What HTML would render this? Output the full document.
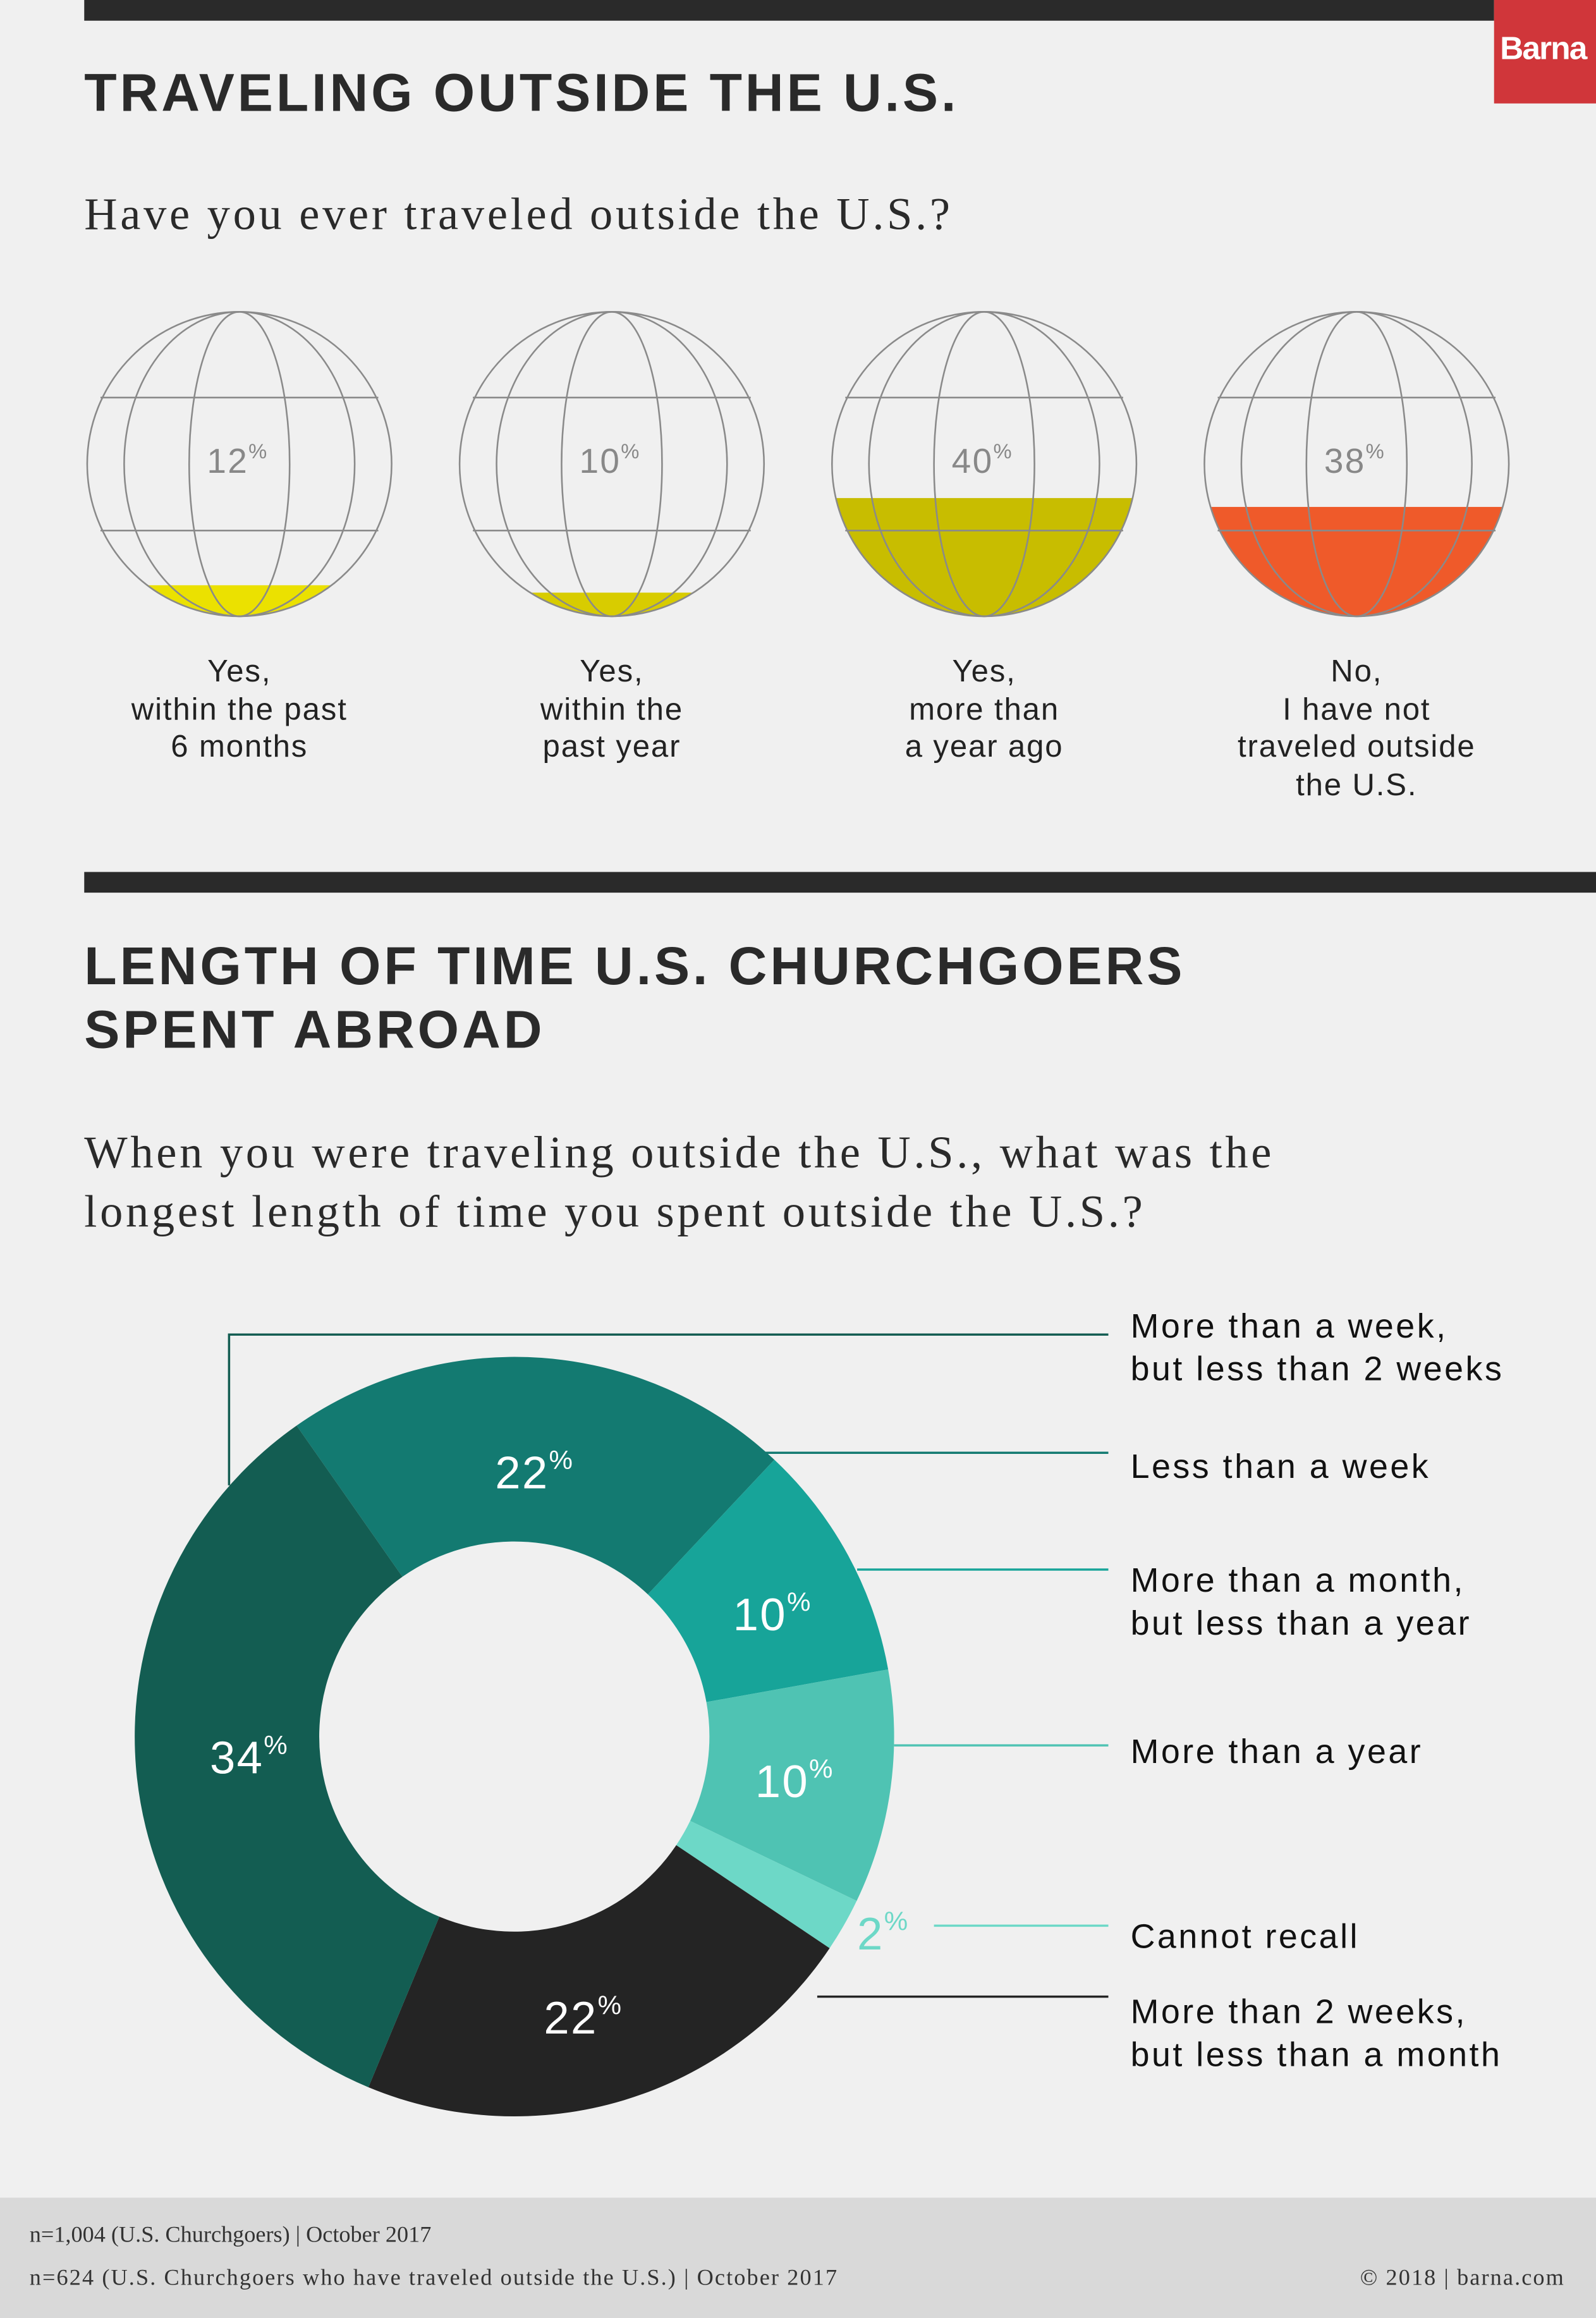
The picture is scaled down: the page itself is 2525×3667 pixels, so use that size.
<!DOCTYPE html>
<html><head><meta charset="utf-8"><style>
html,body{margin:0;padding:0;background:#f0f0f0;}
#w{width:2525px;height:3667px;overflow:hidden;position:relative;background:#f0f0f0;}
#c{position:absolute;left:0;top:0;width:1080px;height:1569px;transform:scale(2.3380);transform-origin:0 0;}
.a{position:absolute;white-space:nowrap;}
.h{font-family:"Liberation Sans",sans-serif;font-weight:bold;font-size:36px;color:#2a2a2a;letter-spacing:2.1px;}
.q{font-family:"Liberation Serif",serif;font-size:31px;color:#2a2a2a;letter-spacing:2px;}
.lb{font-family:"Liberation Sans",sans-serif;font-size:21px;color:#222;text-align:center;line-height:25.5px;letter-spacing:0.8px;}
.lg{font-family:"Liberation Sans",sans-serif;font-size:23px;color:#111;line-height:28.5px;letter-spacing:1.5px;}
.ft{font-family:"Liberation Serif",serif;font-size:15.5px;color:#333;letter-spacing:0.5px;}
</style></head><body><div id="w"><div id="c">
<div class="a" style="left:57px;top:0;width:954px;height:14px;background:#2a2a2a"></div>
<div class="a" style="left:1011px;top:0;width:69px;height:70px;background:#d0363a"></div>
<div class="a" style="left:1015px;top:20px;font-family:'Liberation Sans',sans-serif;font-weight:bold;font-size:22px;color:#fff;letter-spacing:-0.8px">Barna</div>
<div class="a h" style="left:57px;top:42px">TRAVELING OUTSIDE THE U.S.</div>
<div class="a q" style="left:57px;top:127px">Have you ever traveled outside the U.S.?</div>

<svg class="a" style="left:0;top:0" width="1080" height="1569" viewBox="0 0 1080 1569">
<defs>
<clipPath id="g1"><circle cx="162" cy="314" r="103"/></clipPath>
<clipPath id="g2"><circle cx="414" cy="314" r="103"/></clipPath>
<clipPath id="g3"><circle cx="666" cy="314" r="103"/></clipPath>
<clipPath id="g4"><circle cx="918" cy="314" r="103"/></clipPath>
</defs>
<rect x="0" y="396" width="1080" height="200" fill="#ebe100" clip-path="url(#g1)"/>
<rect x="0" y="401" width="1080" height="200" fill="#d8cc00" clip-path="url(#g2)"/>
<rect x="0" y="337" width="1080" height="200" fill="#c8bd00" clip-path="url(#g3)"/>
<rect x="0" y="343" width="1080" height="200" fill="#ef5a2a" clip-path="url(#g4)"/>
<g fill="none" stroke="#8a8a8a" stroke-width="1.1">
<g id="gl"><circle cx="162" cy="314" r="103"/><ellipse cx="162" cy="314" rx="78" ry="103"/><ellipse cx="162" cy="314" rx="34" ry="103"/><line x1="68" y1="269" x2="256" y2="269"/><line x1="68" y1="359" x2="256" y2="359"/></g>
<use href="#gl" x="252"/><use href="#gl" x="504"/><use href="#gl" x="756"/>
</g>
<g font-family="Liberation Sans,sans-serif" fill="#888" font-size="23.5" letter-spacing="1">
<text x="140" y="320">12<tspan font-size="14" dy="-10">%</tspan></text>
<text x="392" y="320">10<tspan font-size="14" dy="-10">%</tspan></text>
<text x="644" y="320">40<tspan font-size="14" dy="-10">%</tspan></text>
<text x="896" y="320">38<tspan font-size="14" dy="-10">%</tspan></text>
</g>
<rect x="57" y="590" width="1023" height="14" fill="#2a2a2a"/>
<rect x="0" y="1487" width="1080" height="82" fill="#d9d9d9"/>
<g stroke-width="1.5" fill="none">
<polyline points="155,1005 155,903 750,903" stroke="#135d52"/>
<line x1="515" y1="983" x2="750" y2="983" stroke="#137a71"/>
<line x1="580" y1="1062" x2="750" y2="1062" stroke="#17a499"/>
<line x1="605" y1="1181" x2="750" y2="1181" stroke="#4fc3b3"/>
<line x1="632" y1="1303" x2="750" y2="1303" stroke="#6dd8c7"/>
<line x1="553" y1="1351" x2="750" y2="1351" stroke="#242424"/>
</g>
<g transform="translate(348,1175)">
<path d="M-147.3,-210.4 A257,257 0 0 1 176.0,-187.3 L90.4,-96.2 A132,132 0 0 0 -75.7,-108.1Z" fill="#137a71"/>
<path d="M176.0,-187.3 A257,257 0 0 1 253.0,-45.4 L130.0,-23.3 A132,132 0 0 0 90.4,-96.2Z" fill="#17a499"/>
<path d="M253.0,-45.4 A257,257 0 0 1 231.7,111.2 L119.0,57.1 A132,132 0 0 0 130.0,-23.3Z" fill="#4fc3b3"/>
<path d="M231.7,111.2 A257,257 0 0 1 213.4,143.2 L109.6,73.5 A132,132 0 0 0 119.0,57.1Z" fill="#6dd8c7"/>
<path d="M213.4,143.2 A257,257 0 0 1 -98.7,237.3 L-50.7,121.9 A132,132 0 0 0 109.6,73.5Z" fill="#242424"/>
<path d="M-98.7,237.3 A257,257 0 0 1 -147.3,-210.4 L-75.7,-108.1 A132,132 0 0 0 -50.7,121.9Z" fill="#135d52"/>
</g>
<g font-family="Liberation Sans,sans-serif" fill="#fff" font-size="31" letter-spacing="1">
<text x="335" y="1007">22<tspan font-size="18" dy="-13">%</tspan></text>
<text x="496" y="1103">10<tspan font-size="18" dy="-13">%</tspan></text>
<text x="511" y="1216">10<tspan font-size="18" dy="-13">%</tspan></text>
<text x="142" y="1200">34<tspan font-size="18" dy="-13">%</tspan></text>
<text x="368" y="1376">22<tspan font-size="18" dy="-13">%</tspan></text>
<text x="580" y="1319" fill="#6dd8c7">2<tspan font-size="18" dy="-13">%</tspan></text>
</g>
</svg>

<div class="a lb" style="left:62px;width:200px;top:442px">Yes,<br>within the past<br>6 months</div>
<div class="a lb" style="left:314px;width:200px;top:442px">Yes,<br>within the<br>past year</div>
<div class="a lb" style="left:566px;width:200px;top:442px">Yes,<br>more than<br>a year ago</div>
<div class="a lb" style="left:818px;width:200px;top:442px">No,<br>I have not<br>traveled outside<br>the U.S.</div>

<div class="a h" style="left:57px;top:632px;line-height:43px">LENGTH OF TIME U.S. CHURCHGOERS<br>SPENT ABROAD</div>
<div class="a q" style="left:57px;top:760px;line-height:40px">When you were traveling outside the U.S., what was the<br>longest length of time you spent outside the U.S.?</div>

<div class="a lg" style="left:765px;top:883px">More than a week,<br>but less than 2 weeks</div>
<div class="a lg" style="left:765px;top:978px">Less than a week</div>
<div class="a lg" style="left:765px;top:1055px">More than a month,<br>but less than a year</div>
<div class="a lg" style="left:765px;top:1171px">More than a year</div>
<div class="a lg" style="left:765px;top:1296px">Cannot recall</div>
<div class="a lg" style="left:765px;top:1347px">More than 2 weeks,<br>but less than a month</div>

<div class="a ft" style="left:20px;top:1504px;letter-spacing:0">n=1,004 (U.S. Churchgoers) | October 2017</div>
<div class="a ft" style="left:20px;top:1533px;letter-spacing:0.9px">n=624 (U.S. Churchgoers who have traveled outside the U.S.) | October 2017</div>
<div class="a ft" style="right:21px;top:1533px;letter-spacing:0.9px">© 2018 | barna.com</div>
</div></div></body></html>
